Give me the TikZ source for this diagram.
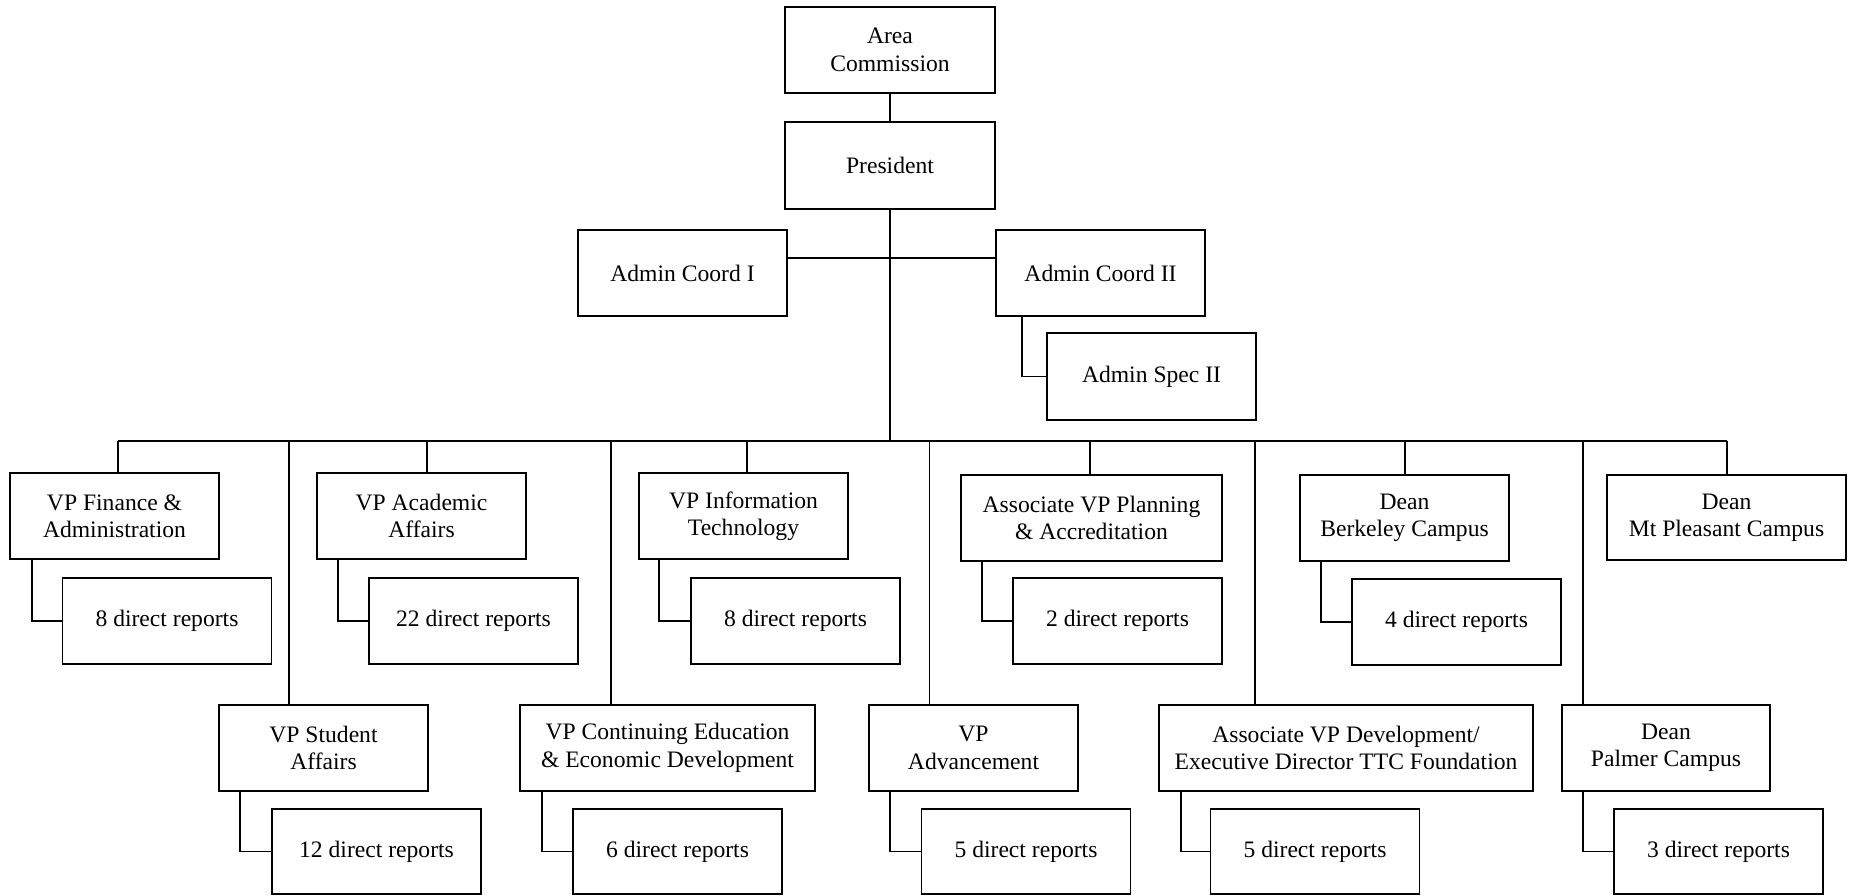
\documentclass[tikz,border=0pt]{standalone}
\usepackage{fontspec}
\setmainfont{Liberation Serif}
\begin{document}
\begin{tikzpicture}[x=0.5pt,y=-0.5pt,
  box/.style={draw, line width=0.7pt, inner sep=0pt, align=center,
    font=\fontsize{11.8}{13.7}\selectfont},
  sz/.style 2 args={minimum width=#1*0.5pt, minimum height=#2*0.5pt},
  wire/.style={line width=0.9pt}]
\useasboundingbox (0,0) rectangle (1851,895);
% top
\node[box,sz={210}{86}] (area) at (890,50) {Area\\Commission};
\node[box,sz={210}{87}] (pres) at (890,165.5) {President};
\node[box,sz={209}{86}] (ac1) at (682.5,273) {Admin Coord I};
\node[box,sz={209}{86}] (ac2) at (1100.5,273) {Admin Coord II};
\node[box,sz={209}{87}] (as2) at (1151.5,376.5) {Admin Spec II};
% row 1
\node[box,sz={209}{86}] (fin) at (114.5,516) {VP Finance \&\\Administration};
\node[box,sz={209}{86}] (acad) at (421.5,516) {VP Academic\\Affairs};
\node[box,sz={209}{86}] (it) at (743.5,516) {VP Information\\Technology};
\node[box,sz={261}{86}] (plan) at (1091.5,518) {Associate VP Planning\\\& Accreditation};
\node[box,sz={209}{86}] (berk) at (1404.5,518) {Dean\\Berkeley Campus};
\node[box,sz={239}{85}] (mtp) at (1726.5,517.5) {Dean\\Mt Pleasant Campus};
% row 1 direct reports
\node[box,sz={209}{86}] (dfin) at (167,621) {8 direct reports};
\node[box,sz={209}{86}] (dacad) at (473.5,621) {22 direct reports};
\node[box,sz={209}{86}] (dit) at (795.5,621) {8 direct reports};
\node[box,sz={209}{86}] (dplan) at (1117.5,621) {2 direct reports};
\node[box,sz={209}{86}] (dberk) at (1456.5,622) {4 direct reports};
% row 2
\node[box,sz={209}{86}] (stu) at (323.5,748) {VP Student\\Affairs};
\node[box,sz={295}{86}] (cont) at (667.5,748) {VP Continuing Education\\\& Economic Development};
\node[box,sz={209}{86}] (adv) at (973.5,748) {VP\\Advancement};
\node[box,sz={374}{86}] (dev) at (1346,748) {Associate VP Development/\\Executive Director TTC Foundation};
\node[box,sz={208}{86}] (palm) at (1666,748) {Dean\\Palmer Campus};
% row 2 direct reports
\node[box,sz={209}{85}] (dstu) at (376.5,851.5) {12 direct reports};
\node[box,sz={209}{85}] (dcont) at (677.5,851.5) {6 direct reports};
\node[box,sz={209}{85}] (dadv) at (1026,851.5) {5 direct reports};
\node[box,sz={209}{85}] (ddev) at (1315,851.5) {5 direct reports};
\node[box,sz={209}{85}] (dpalm) at (1718.5,851.5) {3 direct reports};
% trunk and bus
\coordinate (busL) at (118,440.7);
\coordinate (busR) at (1727,440.7);
\coordinate (hy) at (0,258);
\draw[wire] (area.south) -- (pres.north);
\draw[wire] (pres.south) -- (pres.south |- busL);
\draw[wire] (ac1.east |- hy) -- (ac2.west |- hy);
\draw[wire] (busL) -- (busR);
\coordinate (cas) at (1022,0);
\draw[wire] (ac2.south -| cas) |- (as2.west);
% drops from bus
\foreach \x/\n in {118/fin,427/acad,747/it,1090/plan,1405/berk,1727/mtp,
  289/stu,610.6/cont,929.5/adv,1255/dev,1583/palm}{
  \coordinate (b) at (\x,440.7);
  \draw[wire] (b) -- (b |- \n.north);
}
% elbows to direct reports
\foreach \x/\a/\b in {31.6/fin/dfin,338/acad/dacad,659/it/dit,982/plan/dplan,1321/berk/dberk,
  240/stu/dstu,541.8/cont/dcont,890/adv/dadv,1180.7/dev/ddev,1583/palm/dpalm}{
  \coordinate (e) at (\x,0);
  \draw[wire] (\a.south -| e) |- (\b.west);
}
\end{tikzpicture}
\end{document}
